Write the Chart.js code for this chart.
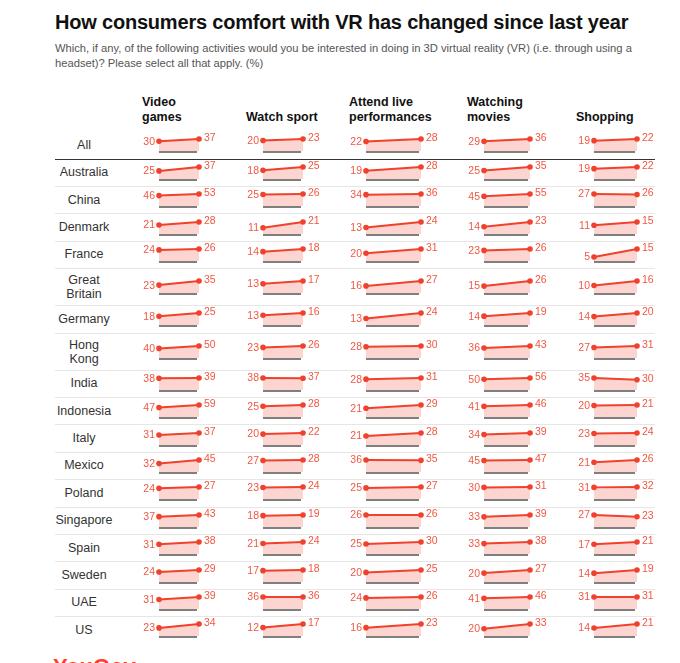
<!DOCTYPE html>
<html>
<head>
<meta charset="utf-8">
<script src="https://cdn.jsdelivr.net/npm/chart.js@4.4.1/dist/chart.umd.min.js"></script>
<style>
  html, body { margin: 0; padding: 0; background: #fff; }
  body { width: 680px; height: 663px; position: relative; overflow: hidden; font-family: "Liberation Sans", Arial, sans-serif; }
  .abs { position: absolute; white-space: pre-line; }
  #title { left: 55px; top: 12px; font-size: 20px; font-weight: bold; color: #111; line-height: 1; letter-spacing: -0.2px; }
  #sub { left: 55px; top: 41px; font-size: 11.2px; color: #555; line-height: 15px; }
  .head { font-size: 12.5px; font-weight: bold; color: #111; line-height: 15px; }
  .rowlab { left: 34px; width: 100px; text-align: center; font-size: 12.5px; color: #333; line-height: 14px; }
  .rule { position: absolute; left: 55px; width: 600px; height: 1px; background: #e6e6e6; }
  #logo { left: 53px; top: 656px; font-size: 22px; font-weight: bold; color: #ff412c; line-height: 1; }
  canvas { position: absolute; }
</style>
</head>
<body>
<div id="title" class="abs">How consumers comfort with VR has changed since last year</div>
<div id="sub" class="abs">Which, if any, of the following activities would you be interested in doing in 3D virtual reality (VR) (i.e. through using a
headset)? Please select all that apply. (%)</div>
<div id="logo" class="abs">YouGov</div>

<script>
//1) DATA//
const columns = ['Video\ngames', 'Watch sport', 'Attend live\nperformances', 'Watching\nmovies', 'Shopping'];
const rows = ['All', 'Australia', 'China', 'Denmark', 'France', 'Great\nBritain', 'Germany', 'Hong\nKong', 'India',
   'Indonesia', 'Italy', 'Mexico', 'Poland', 'Singapore', 'Spain', 'Sweden', 'UAE', 'US'];

const videoGamesPrev = [30, 25, 46, 21, 24, 23, 18, 40, 38, 47, 31, 32, 24, 37, 31, 24, 31, 23];
const videoGamesNow  = [37, 37, 53, 28, 26, 35, 25, 50, 39, 59, 37, 45, 27, 43, 38, 29, 39, 34];
const sportPrev      = [20, 18, 25, 11, 14, 13, 13, 23, 38, 25, 20, 27, 23, 18, 21, 17, 36, 12];
const sportNow       = [23, 25, 26, 21, 18, 17, 16, 26, 37, 28, 22, 28, 24, 19, 24, 18, 36, 17];
const livePrev       = [22, 19, 34, 13, 20, 16, 13, 28, 28, 21, 21, 36, 25, 26, 25, 20, 24, 16];
const liveNow        = [28, 28, 36, 24, 31, 27, 24, 30, 31, 29, 28, 35, 27, 26, 30, 25, 26, 23];
const moviesPrev     = [29, 25, 45, 14, 23, 15, 14, 36, 50, 41, 34, 45, 30, 33, 33, 20, 41, 20];
const moviesNow      = [36, 35, 55, 23, 26, 26, 19, 43, 56, 46, 39, 47, 31, 39, 38, 27, 46, 33];
const shoppingPrev   = [19, 19, 27, 11, 5, 10, 14, 27, 35, 20, 23, 21, 31, 27, 17, 14, 31, 14];
const shoppingNow    = [22, 22, 26, 15, 15, 16, 20, 31, 30, 21, 24, 26, 32, 23, 21, 19, 31, 21];

const series = [
   [videoGamesPrev, videoGamesNow],
   [sportPrev, sportNow],
   [livePrev, liveNow],
   [moviesPrev, moviesNow],
   [shoppingPrev, shoppingNow]
];

//2) LAYOUT//
const headLeft = [142, 246, 349, 467, 576];
const spanX = [[159, 199], [263, 303], [366, 421], [484, 530], [594, 637]];
const lineColor = '#f0412d';
const labelColor = '#ef5844';
const fillColor = '#fcd5d0';

function addDiv(cls, text, css) {
   const d = document.createElement('div');
   d.className = 'abs ' + cls;
   d.textContent = text;
   Object.assign(d.style, css);
   document.body.appendChild(d);
   return d;
}

// column headers (bottom aligned on two lines)
columns.forEach((c, i) => {
   const twoLines = c.indexOf('\n') >= 0;
   addDiv('head', c, { left: headLeft[i] + 'px', top: (twoLines ? 95 : 110) + 'px' });
});

// row geometry
const rowTops = [];
let y = 131;
rows.forEach((r, i) => {
   const h = i === 0 ? 28 : (r.indexOf('\n') >= 0 ? 37 : 27.4);
   rowTops.push([y, h]);
   y += h;
});

// separators
rowTops.forEach(([top, h], i) => {
   if (i === rows.length - 1) return;
   const line = document.createElement('div');
   line.className = 'rule';
   line.style.top = (top + h - 0.5) + 'px';
   if (i === 0) { line.style.background = '#333'; line.style.height = '1.5px'; }
   document.body.appendChild(line);
});

//3) CELL PLUGIN//
const cellDecor = {
   id: 'cellDecor',
   afterDatasetsDraw(chart) {
      const ctx = chart.ctx;
      const area = chart.chartArea;
      const pts = chart.getDatasetMeta(0).data;
      const vals = chart.data.datasets[0].data;
      ctx.save();
      ctx.strokeStyle = '#555';
      ctx.lineWidth = 1.5;
      ctx.beginPath();
      ctx.moveTo(area.left, area.bottom + 1);
      ctx.lineTo(area.right - 2, area.bottom + 1);
      ctx.stroke();

      ctx.font = '10.5px "Liberation Sans", Arial, sans-serif';
      ctx.fillStyle = labelColor;
      ctx.textBaseline = 'middle';
      ctx.textAlign = 'right';
      ctx.fillText(vals[0].y, pts[0].x - 4, pts[0].y + 0.5);
      ctx.textAlign = 'left';
      ctx.fillText(vals[1].y, pts[1].x + 5, pts[1].y - 1);
      ctx.restore();
   }
};

//4) CHARTS//
const padL = 24, padR = 22, padT = 8, padB = 4, cellH = 12;

rows.forEach((r, ri) => {
   const [top, h] = rowTops[ri];
   const center = top + h / 2;
   addDiv('rowlab', r, { top: (center - (r.indexOf('\n') >= 0 ? 14 : 7.5)) + 'px' });

   series.forEach((pair, ci) => {
      const a = pair[0][ri], b = pair[1][ri];
      const [x0, x1] = spanX[ci];
      const cv = document.createElement('canvas');
      const w = (x1 - x0) + padL + padR;
      const hh = cellH + padT + padB;
      cv.width = w;
      cv.height = hh;
      cv.style.width = w + 'px';
      cv.style.height = hh + 'px';
      cv.style.left = (x0 - padL) + 'px';
      cv.style.top = (center - 6 - padT) + 'px';
      document.body.appendChild(cv);

      new Chart(cv.getContext('2d'), {
         type: 'line',
         data: {
            datasets: [{
               data: [{ x: 0, y: a }, { x: 1, y: b }],
               borderColor: lineColor,
               borderWidth: 2,
               backgroundColor: fillColor,
               fill: 'origin',
               pointRadius: 2.8,
               pointBackgroundColor: lineColor,
               pointBorderWidth: 0,
               tension: 0,
               clip: false
            }]
         },
         options: {
            responsive: false,
            animation: false,
            events: [],
            layout: { padding: { left: padL, right: padR, top: padT, bottom: padB } },
            scales: {
               x: { type: 'linear', min: 0, max: 1, display: false },
               y: { min: 0, max: Math.max(a, b), display: false }
            },
            plugins: { legend: { display: false }, tooltip: { enabled: false } }
         },
         plugins: [cellDecor]
      });
   });
});
</script>
</body>
</html>
